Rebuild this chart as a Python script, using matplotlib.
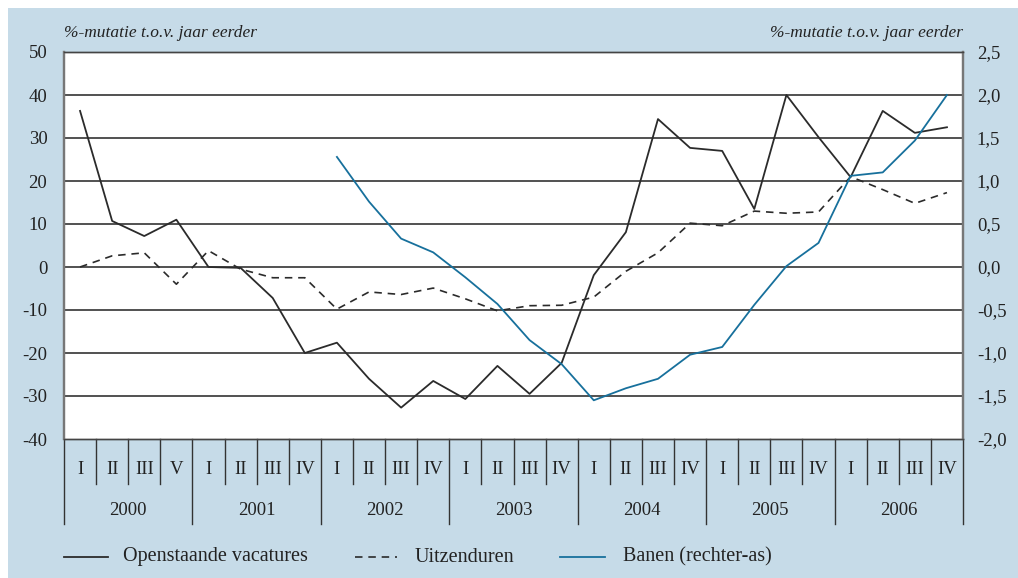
import matplotlib.pyplot as plt
from matplotlib.patches import Rectangle
from matplotlib.lines import Line2D
from matplotlib.ticker import FuncFormatter
import numpy as np

years = ["2000", "2001", "2002", "2003", "2004", "2005", "2006"]
quarter_labels = ["I", "II", "III", "V"] + ["I", "II", "III", "IV"] * 6

# openstaande vacatures (linker-as)
vacatures = [36.3, 10.7, 7.2, 11.0, 0.0, -0.2, -7.2, -20.0,
             -17.6, -26.0, -32.7, -26.5, -30.7, -23.0, -29.5, -22.3,
             -1.9, 8.1, 34.4, 27.7, 27.0, 13.5, 40.0, 30.2,
             20.9, 36.3, 31.2, 32.5]
# uitzenduren (linker-as)
uitzenduren = [0.0, 2.6, 3.3, -4.0, 3.8, -0.5, -2.5, -2.5,
               -9.8, -5.8, -6.4, -4.9, -7.4, -10.2, -9.0, -8.9,
               -7.0, -1.0, 3.3, 10.2, 9.6, 13.0, 12.5, 12.8,
               21.0, 18.0, 14.8, 17.3]
# banen (rechter-as), pas vanaf 2002-I
banen = [np.nan] * 8 + [1.28, 0.76, 0.33, 0.17, -0.12, -0.43, -0.85, -1.13,
                        -1.55, -1.41, -1.30, -1.02, -0.93, -0.44, 0.01, 0.28,
                        1.06, 1.10, 1.47, 2.00]

bg = "#c6dbe8"
blue = "#17709c"
dark = "#2b2b2b"
plt.rcParams["font.family"] = ["Liberation Serif", "DejaVu Serif"]
plt.rcParams["axes.unicode_minus"] = False

fig = plt.figure(figsize=(10.18, 5.78), dpi=100, facecolor="white")
fig.add_artist(Rectangle((8 / 1018, 0), 1, 1 - 8 / 578, transform=fig.transFigure,
                         facecolor=bg, edgecolor="none", zorder=-10))

ax = fig.add_axes([64 / 1018, 1 - 439 / 578, 899 / 1018, 387 / 578])
ax.set_facecolor("white")
ax2 = ax.twinx()

x = np.arange(len(vacatures))
l1, = ax.plot(x, vacatures, color=dark, lw=1.3, label="Openstaande vacatures")
l2, = ax.plot(x, uitzenduren, color=dark, lw=1.2, dashes=(4.5, 3.5), label="Uitzenduren")
l3, = ax2.plot(x, banen, color=blue, lw=1.3, label="Banen (rechter-as)")

ax.set_xlim(-0.5, len(x) - 0.5)
ax.set_ylim(-40, 50)
ax.set_yticks(np.arange(-40, 51, 10))
ax2.set_ylim(-2.0, 2.5)
ax2.set_yticks(np.arange(-2.0, 2.51, 0.5))
ax2.yaxis.set_major_formatter(FuncFormatter(lambda v, p: f"{v:.1f}".replace(".", ",")))

for v in np.arange(-30, 50, 10):
    ax.axhline(v, color="#333333", lw=1.2, zorder=0)

ax.set_xticks([])
ax.tick_params(axis="y", length=0, pad=12, labelsize=13.5, colors="#222222")
ax2.tick_params(axis="y", length=0, pad=10, labelsize=13.5, colors="#222222")

for a in (ax, ax2):
    for s in ["top", "bottom"]:
        a.spines[s].set_color("#444444")
        a.spines[s].set_linewidth(1.0)
    a.spines["left"].set_color("#777777")
    a.spines["left"].set_linewidth(1.6)
    a.spines["right"].set_color("#777777")
    a.spines["right"].set_linewidth(1.6)

# kwartaal- en jaarindeling onder de as
tr = ax.get_xaxis_transform()
for i, q in enumerate(quarter_labels):
    ax.text(i, -0.08, q, transform=tr, ha="center", va="center", fontsize=13.5,
            color="#222222", clip_on=False)
for i in range(len(x) + 1):
    bottom = -0.22 if i % 4 == 0 else -0.116
    ax.plot([i - 0.5, i - 0.5], [0, bottom], transform=tr, color="#333333",
            lw=1.0, clip_on=False)
for j, yr in enumerate(years):
    ax.text(j * 4 + 1.5, -0.186, yr, transform=tr, ha="center", va="center",
            fontsize=13.5, color="#222222", clip_on=False)

ax.text(0, 1.05, "%-mutatie t.o.v. jaar eerder", transform=ax.transAxes,
        ha="left", va="center", fontsize=12.5, style="italic", color="#222222")
ax.text(1, 1.05, "%-mutatie t.o.v. jaar eerder", transform=ax.transAxes,
        ha="right", va="center", fontsize=12.5, style="italic", color="#222222")

# legenda, handmatig geplaatst (pixels)
ly = 1 - 557 / 578
legend_items = [(l1, 64, 108, 123), (l2, 355, 397, 415), (l3, 560, 605, 623)]
for line, x0, x1, xt in legend_items:
    fig.add_artist(Line2D([x0 / 1018, x1 / 1018], [ly, ly], transform=fig.transFigure,
                          color=line.get_color(), lw=line.get_linewidth(),
                          linestyle=line.get_linestyle(), dashes=(4.5, 3.5)
                          if line is l2 else (None, None)))
    fig.text(xt / 1018, ly, line.get_label(), ha="left", va="center",
             fontsize=14.5, color="#222222")

fig.savefig("out.png", dpi=100, facecolor="white")
